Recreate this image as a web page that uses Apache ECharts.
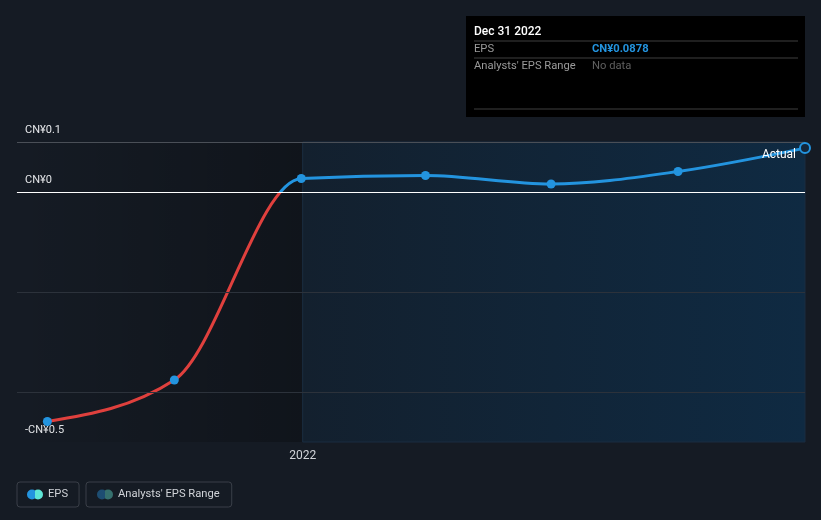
<!DOCTYPE html>
<html>
<head>
<meta charset="utf-8">
<script src="https://cdn.jsdelivr.net/npm/echarts@6/dist/echarts.min.js"></script>
<style>
html,body{margin:0;padding:0;background:#151b24;}
#chart{width:821px;height:520px;}
</style>
</head>
<body>
<div id="chart"></div>
<script>
// ---- data ----
var dates = ['2021-06-30','2021-09-30','2021-12-31','2022-03-31','2022-06-30','2022-09-30','2022-12-31'];
var eps = [-0.459, -0.376, 0.027, 0.033, 0.016, 0.041, 0.0878];
var yLabelValues = [0.1, 0, -0.5];
var gridValues = [-0.2, -0.4];
var xLabelDates = ['2022-01-01'];
var xMin = '2021-06-08';
var xMax = '2022-12-31';
var pastEnd = '2022-01-01';
var tipTitle = 'Dec 31 2022';
var tipRows = [['EPS', 'CN¥0.0878'], ["Analysts' EPS Range", 'No data']];
var legendNames = ['EPS', "Analysts' EPS Range"];

function ts(s){ var p = s.split('-'); return Date.UTC(+p[0], +p[1]-1, +p[2]); }

var chart = echarts.init(document.getElementById('chart'), null, {renderer:'canvas'});
var FONT = 'Roboto, "Noto Sans", sans-serif';
var RED = '#e0403d', BLUE = '#2394df';

function grad(c1, c2, stop){
  return new echarts.graphic.LinearGradient(0,0,1,0,[
    {offset:0,color:c1},{offset:stop,color:c1},{offset:stop,color:c2},{offset:1,color:c2}
  ]);
}
var iconPath = 'path://M0,5a5,5 0 1,0 10,0a5,5 0 1,0 -10,0M6,5a5,5 0 1,0 10,0a5,5 0 1,0 -10,0';

var lineData = dates.map(function(d,i){ return [ts(d), eps[i]]; });
var pointData = lineData.map(function(p,i){
  if (i === lineData.length-1) {
    return {value:p, symbolSize:10, itemStyle:{color:'#13263a', borderColor:BLUE, borderWidth:2},
      label:{show:true, formatter:'Actual', position:'left', distance:3, offset:[0,7], color:'#ffffff', fontSize:12, fontFamily:FONT}};
  }
  return {value:p};
});

// monotone-x cubic segment between data points, positioned via the axis scales
function sgn(v){ return v < 0 ? -1 : 1; }
function renderSegment(params, api){
  var i = params.dataIndex, n = lineData.length;
  if (i >= n - 1) return null;
  var P = lineData.map(function(d){ return api.coord(d); });
  function slope3(k){ // tangent at interior point k
    var h0 = P[k][0]-P[k-1][0], h1 = P[k+1][0]-P[k][0];
    var s0 = (P[k][1]-P[k-1][1])/h0, s1 = (P[k+1][1]-P[k][1])/h1;
    var p = (s0*h1 + s1*h0)/(h0+h1);
    return (sgn(s0)+sgn(s1)) * Math.min(Math.abs(s0), Math.abs(s1), 0.5*Math.abs(p)) || 0;
  }
  function tangent(k){
    if (k > 0 && k < n-1) return slope3(k);
    if (k === 0) { var t1 = slope3(1), h = P[1][0]-P[0][0]; return (3*(P[1][1]-P[0][1])/h - t1)/2; }
    var t2 = slope3(n-2), h2 = P[n-1][0]-P[n-2][0]; return (3*(P[n-1][1]-P[n-2][1])/h2 - t2)/2;
  }
  var a = P[i], b = P[i+1], t0 = tangent(i), t1 = tangent(i+1), dx = (b[0]-a[0])/3;
  var yTop = api.coord([lineData[0][0], 0.1])[1], yBot = api.coord([lineData[0][0], -0.5])[1], yZ = api.coord([lineData[0][0], 0])[1];
  var off = (yZ - yTop)/(yBot - yTop);
  return {
    type:'bezierCurve',
    shape:{x1:a[0], y1:a[1], x2:b[0], y2:b[1], cpx1:a[0]+dx, cpy1:a[1]+dx*t0, cpx2:b[0]-dx, cpy2:b[1]-dx*t1},
    style:{fill:null, lineWidth:3, lineCap:'round',
      stroke:new echarts.graphic.LinearGradient(0, yTop, 0, yBot, [
        {offset:0,color:BLUE},{offset:off,color:BLUE},{offset:off,color:RED},{offset:1,color:RED}], true)}
  };
}

var option = {
  backgroundColor:'#151b24',
  animation:false,
  grid:{left:17, right:16, top:142, bottom:78, containLabel:false},
  xAxis:{
    type:'value', min:ts(xMin), max:ts(xMax),
    axisLine:{show:true, lineStyle:{color:'#454a52', width:1}},
    splitLine:{show:false},
    axisTick:{show:true, customValues:xLabelDates.map(ts), length:5, lineStyle:{color:'#454a52'}},
    axisLabel:{show:true, customValues:xLabelDates.map(ts), color:'#d0d3d8', fontSize:12, fontFamily:FONT, margin:8,
      formatter:function(v){ return String(new Date(v).getUTCFullYear()); }}
  },
  yAxis:{
    type:'value', min:-0.5, max:0.1,
    axisLine:{show:false}, axisTick:{show:false}, splitLine:{show:false},
    axisLabel:{show:true, inside:true, customValues:yLabelValues, margin:8, color:'#e6e8eb', fontSize:11, fontFamily:FONT,
      verticalAlign:'bottom', padding:[0,0,6,0],
      formatter:function(v){ if (Math.abs(v)<1e-9) return 'CN¥0'; return (v<0?'-':'')+'CN¥'+Math.abs(v); }}
  },
  legend:[
    {data:[{name:legendNames[0], icon:iconPath, itemStyle:{color:grad(BLUE,'#5ee6d6',0.5)}}],
     left:17, top:482, padding:[7,11,7,10], itemWidth:16, itemHeight:10, itemGap:8,
     borderColor:'#3a3f48', borderWidth:1, borderRadius:3,
     textStyle:{color:'#d0d3d8', fontSize:11.2, fontFamily:FONT}, selectedMode:false},
    {data:[{name:legendNames[1], icon:iconPath, itemStyle:{color:grad('#1f5a86','#3d8580',0.5)}}],
     left:86, top:482, padding:[7,12,7,11], itemWidth:16, itemHeight:10,
     borderColor:'#3a3f48', borderWidth:1, borderRadius:3,
     textStyle:{color:'#d0d3d8', fontSize:11.2, fontFamily:FONT}, selectedMode:false}
  ],
  series:[
    {
      name:legendNames[0], type:'custom', data:lineData, renderItem:renderSegment,
      encode:{x:0, y:1}, itemStyle:{color:BLUE}, z:3, silent:true,
      markArea:{silent:true, data:[
        [{xAxis:ts(xMin), itemStyle:{color:new echarts.graphic.LinearGradient(0,0,1,0,[{offset:0,color:'rgba(0,0,0,0)'},{offset:1,color:'rgba(0,0,0,0.25)'}])}},{xAxis:ts(pastEnd)}],
        [{xAxis:ts(pastEnd), itemStyle:{color:new echarts.graphic.LinearGradient(0,0,1,0,[{offset:0,color:'#13202e'},{offset:1,color:'#0f2a42'}]), borderColor:'#1b2d40', borderWidth:1}},{xAxis:ts(xMax)}]
      ]},
      markLine:{silent:true, symbol:'none', label:{show:false}, data:[
        {yAxis:0.1, lineStyle:{color:'#4a4f57', width:1, type:'solid'}},
        {yAxis:gridValues[0], lineStyle:{color:'#2c323b', width:1, type:'solid'}},
        {yAxis:gridValues[1], lineStyle:{color:'#2c323b', width:1, type:'solid'}},
        {yAxis:0, lineStyle:{color:'#ffffff', width:1, type:'solid'}}
      ]}
    },
    {
      name:legendNames[0], type:'scatter', data:pointData, symbol:'circle', symbolSize:9,
      itemStyle:{color:BLUE, opacity:1}, z:5
    },
    {name:legendNames[1], type:'scatter', data:[], itemStyle:{color:'#1f5a86'}}
  ],
  graphic:[{
    type:'group', left:466, top:16, children:[
      {type:'rect', shape:{x:0,y:0,width:339,height:101}, style:{fill:'#000000'}},
      {type:'text', x:8, y:10, style:{text:tipTitle, fill:'#ffffff', font:'500 12px '+FONT}},
      {type:'line', shape:{x1:8,y1:25,x2:332,y2:25}, style:{stroke:'#3e3e3e', lineWidth:1}},
      {type:'text', x:8, y:28, style:{text:tipRows[0][0], fill:'#9a9a9a', font:'11.2px '+FONT}},
      {type:'text', x:126, y:28, style:{text:tipRows[0][1], fill:BLUE, font:'bold 11.2px '+FONT}},
      {type:'line', shape:{x1:8,y1:42,x2:332,y2:42}, style:{stroke:'#3e3e3e', lineWidth:1}},
      {type:'text', x:8, y:45, style:{text:tipRows[1][0], fill:'#9a9a9a', font:'11.2px '+FONT}},
      {type:'text', x:126, y:45, style:{text:tipRows[1][1], fill:'#5f5f5f', font:'11.2px '+FONT}},
      {type:'line', shape:{x1:8,y1:93,x2:332,y2:93}, style:{stroke:'#3e3e3e', lineWidth:1}}
    ]
  }]
};
chart.setOption(option);
</script>
</body>
</html>
